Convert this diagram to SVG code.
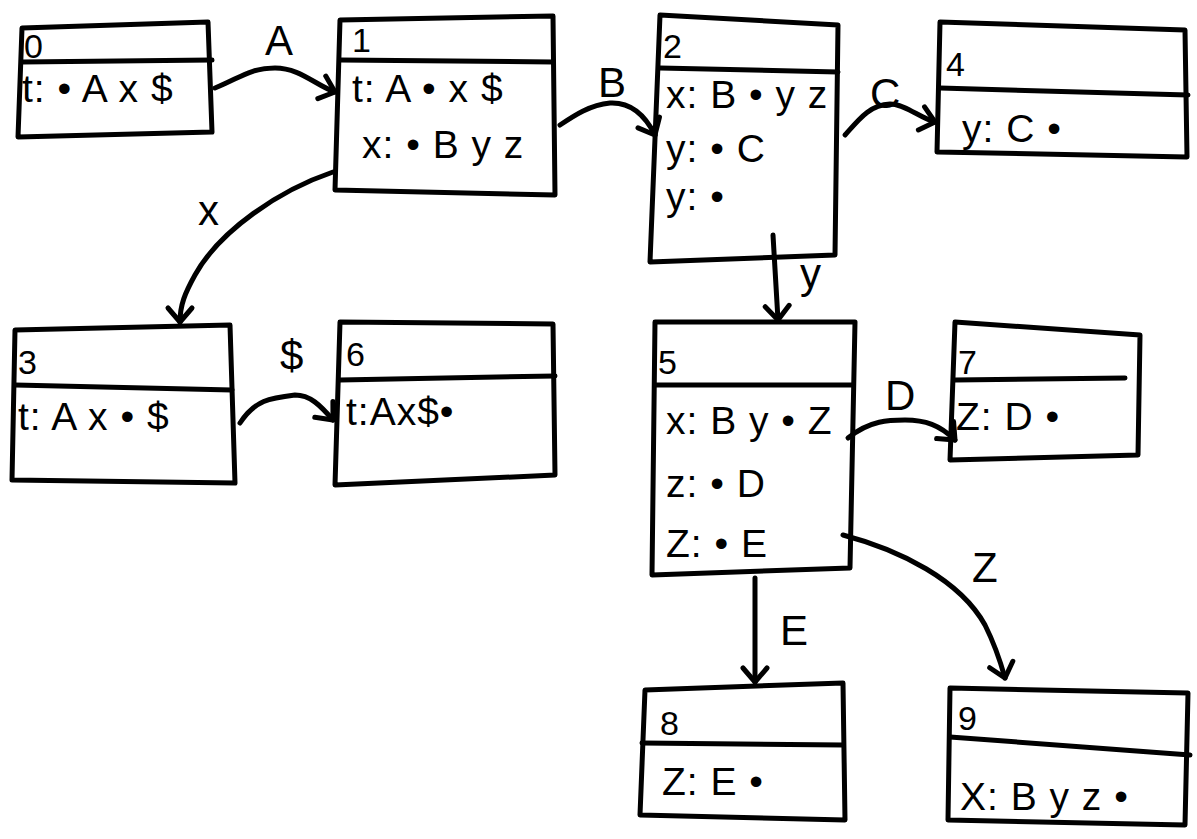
<svg xmlns="http://www.w3.org/2000/svg" width="1197" height="839" viewBox="0 0 1197 839">
<defs>
<style>
.b{fill:none;stroke:#000;stroke-width:5;stroke-linejoin:round;stroke-linecap:round}
.t{font-family:"Liberation Sans",Arial,sans-serif;font-size:39px;fill:#000;letter-spacing:1px}
.n{font-family:"Liberation Sans",Arial,sans-serif;font-size:34px;fill:#000}
.l{font-family:"Liberation Sans",Arial,sans-serif;font-size:42px;fill:#000}
</style>
<marker id="ah" markerUnits="userSpaceOnUse" markerWidth="40" markerHeight="40" viewBox="-20 -20 40 40" refX="0" refY="0" orient="auto">
<path d="M-14,-12 L0,0 L-14,12" fill="none" stroke="#000" stroke-width="5" stroke-linecap="round" stroke-linejoin="round"/>
</marker>
</defs>
<rect width="1197" height="839" fill="#fff"/>
<g id="node0">
<path class="b" d="M22,28 L208,22 L212,132 L18,137 Z"/>
<path class="b" d="M22,62 L212,60"/>
<text class="n" x="24" y="58">0</text>
<text class="t" x="22" y="102">t: • A x $</text>
</g>
<g id="node1">
<path class="b" d="M340,20 L553,16 L555,195 L335,190 Z"/>
<path class="b" d="M340,60 L553,62"/>
<text class="n" x="352" y="52">1</text>
<text class="t" x="352" y="102">t: A • x $</text>
<text class="t" x="362" y="158">x: • B y z</text>
</g>
<g id="node2">
<path class="b" d="M660,15 L838,25 L835,255 L650,262 Z"/>
<path class="b" d="M660,68 L838,72"/>
<text class="n" x="663" y="58">2</text>
<text class="t" x="666" y="108">x: B • y z</text>
<text class="t" x="666" y="162">y: • C</text>
<text class="t" x="666" y="210">y: •</text>
</g>
<g id="node4">
<path class="b" d="M940,22 L1185,30 L1187,157 L937,152 Z"/>
<path class="b" d="M940,88 L1188,95"/>
<text class="n" x="946" y="76">4</text>
<text class="t" x="962" y="142">y: C •</text>
</g>
<g id="node3">
<path class="b" d="M15,330 L230,325 L235,483 L12,480 Z"/>
<path class="b" d="M15,385 L232,390"/>
<text class="n" x="18" y="374">3</text>
<text class="t" x="18" y="430">t: A x • $</text>
</g>
<g id="node6">
<path class="b" d="M340,322 L553,324 L555,475 L335,485 Z"/>
<path class="b" d="M340,380 L555,376"/>
<text class="n" x="346" y="366">6</text>
<text class="t" x="346" y="425">t:Ax$•</text>
</g>
<g id="node5">
<path class="b" d="M655,322 L855,322 L850,568 L652,575 Z"/>
<path class="b" d="M655,385 L852,385"/>
<text class="n" x="658" y="374">5</text>
<text class="t" x="666" y="434">x: B y • Z</text>
<text class="t" x="666" y="497">z: • D</text>
<text class="t" x="666" y="557">Z: • E</text>
</g>
<g id="node7">
<path class="b" d="M955,322 L1140,335 L1138,455 L950,460 Z"/>
<path class="b" d="M955,380 L1125,378"/>
<text class="n" x="958" y="374">7</text>
<text class="t" x="956" y="430">Z: D •</text>
</g>
<g id="node8">
<path class="b" d="M645,690 L843,683 L845,820 L640,815 Z"/>
<path class="b" d="M642,743 L843,745"/>
<text class="n" x="660" y="735">8</text>
<text class="t" x="662" y="795">Z: E •</text>
</g>
<g id="node9">
<path class="b" d="M950,688 L1188,693 L1185,825 L948,820 Z"/>
<path class="b" d="M950,737 L1190,755"/>
<text class="n" x="958" y="730">9</text>
<text class="t" x="960" y="810">X: B y z •</text>
</g>
<g id="edges">
<path class="b" marker-end="url(#ah)" d="M215,88 C240,78 250,68 275,68 C300,68 315,85 335,92"/>
<path class="b" marker-end="url(#ah)" d="M560,125 C575,115 590,105 610,103 C630,102 645,115 655,135"/>
<path class="b" marker-end="url(#ah)" d="M845,135 C860,118 870,105 890,104 C905,104 920,118 935,122"/>
<path class="b" marker-end="url(#ah)" d="M333,172 C280,190 220,230 195,275 C185,293 180,305 180,322"/>
<path class="b" marker-end="url(#ah)" d="M240,423 C255,400 270,398 295,395 C310,395 320,405 333,420"/>
<path class="b" marker-end="url(#ah)" d="M773,235 L778,320"/>
<path class="b" marker-end="url(#ah)" d="M848,438 C870,420 890,420 905,420 C925,420 940,425 955,440"/>
<path class="b" marker-end="url(#ah)" d="M755,578 L755,682"/>
<path class="b" marker-end="url(#ah)" d="M843,535 C900,550 960,580 985,625 C995,645 1000,660 1005,678"/>
<text class="l" x="265" y="55">A</text>
<text class="l" x="598" y="97">B</text>
<text class="l" x="870" y="108">C</text>
<text class="l" x="198" y="225">x</text>
<text class="l" x="280" y="370">$</text>
<text class="l" x="800" y="288">y</text>
<text class="l" x="885" y="410">D</text>
<text class="l" x="780" y="645">E</text>
<text class="l" x="972" y="582">Z</text>
</g>
</svg>
